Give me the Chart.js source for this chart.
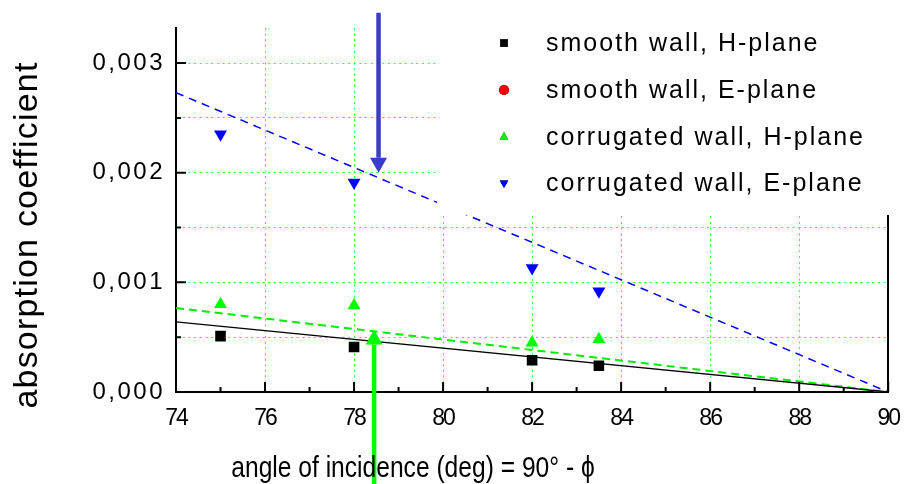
<!DOCTYPE html>
<html>
<head>
<meta charset="utf-8">
<script src="https://cdn.jsdelivr.net/npm/chart.js@4.4.0/dist/chart.umd.min.js"></script>
<style>
  body { margin: 0; background: #fff; }
  #wrap { width: 914px; height: 484px; }
</style>
</head>
<body>
<div id="wrap"><canvas id="absChart" width="914" height="484"></canvas></div>
<script>
// measured angles (deg) and absorption coefficients
const angles = [75, 78, 82, 83.5];
const smoothH = [0.00051, 0.00041, 0.00029, 0.00024];
const smoothE = [];
const corrH = [0.00080, 0.00079, 0.00045, 0.00048];
const corrE = [0.00235, 0.00191, 0.00113, 0.00092];

// fitted lines, all going to zero at 90 deg
const fitX = [74, 90];
const fitSmoothH = [0.00064, 0];
const fitCorrH = [0.000766, 0];
const fitCorrE = [0.00273, 0];

// arrows marking the critical angle
const arrowBlue = { x: 78.55, from: 0.00346, to: 0.0020 };
const arrowGreen = { x: 78.45, from: -0.00084, to: 0.00057 };

const xTicks = [74, 76, 78, 80, 82, 84, 86, 88, 90];

const arial = "'Liberation Sans', Arial, sans-serif";
const gridGreen = '#3dff3d';

const pts = (xs, ys) => ys.map((v, i) => ({ x: xs[i], y: v }));
const isStep = (v, s) => Math.abs(v / s - Math.round(v / s)) < 1e-6;

// -------------------------------------------------------------------
// text spacing: x labels tight, y labels / legend spaced
// -------------------------------------------------------------------
const spacingPlugin = {
  id: 'spacing',
  beforeDraw(chart) { chart.ctx.letterSpacing = '-2px'; },
  afterDatasetsDraw(chart) { chart.ctx.letterSpacing = '2.5px'; }
};

// -------------------------------------------------------------------
// ticks pointing into the plot, legend box, arrows, axis titles
// -------------------------------------------------------------------
const decoPlugin = {
  id: 'deco',
  afterDraw(chart) {
    const { ctx, chartArea: area, scales: { x, y } } = chart;
    ctx.save();

    // inward ticks
    ctx.strokeStyle = '#000';
    ctx.lineWidth = 2;
    ctx.beginPath();
    x.ticks.forEach(t => {
      const px = x.getPixelForValue(t.value);
      const len = isStep(t.value, 2) ? 10 : 5;
      ctx.moveTo(px, area.bottom);
      ctx.lineTo(px, area.bottom - len);
    });
    y.ticks.forEach(t => {
      const py = y.getPixelForValue(t.value);
      const len = isStep(t.value, 0.001) ? 10 : 5;
      ctx.moveTo(area.left, py);
      ctx.lineTo(area.left + len, py);
    });
    ctx.stroke();

    // legend box (opaque, hides grid underneath)
    ctx.fillStyle = '#fff';
    ctx.fillRect(437, 0, 914 - 437, 215);
    ctx.letterSpacing = '2px';
    ctx.font = '25px ' + arial;
    ctx.textBaseline = 'middle';
    ctx.textAlign = 'left';
    const rows = [43, 90, 137, 183];
    chart.data.datasets.filter(d => !d.isFit).forEach((d, i) => {
      Chart.helpers.drawPoint(ctx, {
        pointStyle: d.pointStyle, rotation: d.rotation || 0,
        radius: d.pointStyle === 'rect' ? 5.5 : 5, borderWidth: 0
      }, 504, rows[i]);
      ctx.fillStyle = d.backgroundColor;
      ctx.fill();
      ctx.fillStyle = '#000';
      ctx.fillText(d.label, 546, rows[i] + 1);
    });

    // arrows
    const arrow = (a, color) => {
      const ax = x.getPixelForValue(a.x);
      const y0 = y.getPixelForValue(a.from);
      const y1 = y.getPixelForValue(a.to);
      const dir = y1 > y0 ? 1 : -1;
      const head = 15;
      ctx.strokeStyle = color;
      ctx.fillStyle = color;
      ctx.lineWidth = 4.5;
      ctx.beginPath();
      ctx.moveTo(ax, y0);
      ctx.lineTo(ax, y1 - dir * head);
      ctx.stroke();
      ctx.beginPath();
      ctx.moveTo(ax, y1);
      ctx.lineTo(ax - 8.5, y1 - dir * head);
      ctx.lineTo(ax + 8.5, y1 - dir * head);
      ctx.closePath();
      ctx.fill();
    };
    arrow(arrowBlue, '#3c3ccc');
    arrow(arrowGreen, '#00ff00');

    // axis titles
    ctx.fillStyle = '#000';
    ctx.letterSpacing = '1.2px';
    ctx.font = '34px ' + arial;
    ctx.textAlign = 'center';
    ctx.textBaseline = 'alphabetic';
    ctx.save();
    ctx.translate(37, 235);
    ctx.rotate(-Math.PI / 2);
    ctx.fillText('absorption coefficient', 0, 0);
    ctx.restore();
    ctx.letterSpacing = '0px';
    ctx.font = '30px ' + arial;
    ctx.save();
    ctx.translate(413, 477);
    ctx.scale(0.82, 1);
    ctx.fillText('angle of incidence (deg) = 90° - \u03d5', 0, 0);
    ctx.restore();

    ctx.restore();
    ctx.letterSpacing = '0px';
  }
};

const ctx = document.getElementById('absChart').getContext('2d');
const absChart = new Chart(ctx, {
  type: 'scatter',
  data: {
    datasets: [
      {
        label: 'smooth wall, H-plane',
        data: pts(angles, smoothH),
        pointStyle: 'rect',
        backgroundColor: '#000',
        borderColor: '#000',
        pointRadius: 7.5,
        borderWidth: 0,
        order: 1
      },
      {
        label: 'smooth wall, E-plane',
        data: pts(angles, smoothE),
        pointStyle: 'circle',
        backgroundColor: '#ff0000',
        borderColor: '#ff0000',
        pointRadius: 6,
        borderWidth: 0,
        order: 1
      },
      {
        label: 'corrugated wall, H-plane',
        data: pts(angles, corrH),
        pointStyle: 'triangle',
        backgroundColor: '#00ff00',
        borderColor: '#00ff00',
        pointRadius: 7.5,
        borderWidth: 0,
        order: 1
      },
      {
        label: 'corrugated wall, E-plane',
        data: pts(angles, corrE),
        pointStyle: 'triangle',
        rotation: 180,
        backgroundColor: '#0000ff',
        borderColor: '#0000ff',
        pointRadius: 7.5,
        borderWidth: 0,
        order: 1
      },
      {
        label: 'fit smooth H',
        isFit: true,
        type: 'line',
        data: pts(fitX, fitSmoothH),
        borderColor: '#000',
        borderWidth: 1.3,
        pointRadius: 0,
        order: 2
      },
      {
        label: 'fit corrugated H',
        isFit: true,
        type: 'line',
        data: pts(fitX, fitCorrH),
        borderColor: '#00ee00',
        borderWidth: 2,
        borderDash: [8, 5],
        pointRadius: 0,
        order: 2
      },
      {
        label: 'fit corrugated E',
        isFit: true,
        type: 'line',
        data: pts(fitX, fitCorrE),
        borderColor: '#0000ff',
        borderWidth: 1.5,
        borderDash: [8, 6],
        pointRadius: 0,
        order: 2
      }
    ]
  },
  options: {
    responsive: false,
    animation: false,
    layout: { padding: { top: 28, right: 17, left: 0, bottom: 0 } },
    scales: {
      x: {
        type: 'linear',
        min: 74,
        max: 90,
        afterFit: s => { s.height = 92; },
        border: { color: '#000', width: 2, dash: [2, 3.7] },
        grid: {
          drawTicks: false,
          lineWidth: 1,
          color: c => (isStep(c.tick.value, 2) && c.tick.value > 74 && c.tick.value < 90) ? gridGreen : 'rgba(0,0,0,0)'
        },
        ticks: {
          stepSize: 1,
          autoSkip: false,
          maxRotation: 0,
          padding: 13,
          color: '#000',
          font: { family: arial, size: 23 },
          callback: v => xTicks.includes(v) ? String(v) : ''
        }
      },
      y: {
        type: 'linear',
        min: 0,
        max: 0.00332,
        afterFit: s => { s.width = 176; },
        border: { color: '#000', width: 2, dash: [2, 3.7] },
        grid: {
          drawTicks: false,
          lineWidth: 1,
          color: c => (c.tick.value > 0 && isStep(c.tick.value, 0.0005)) ? gridGreen : 'rgba(0,0,0,0)'
        },
        ticks: {
          z: 1,
          stepSize: 0.0005,
          includeBounds: false,
          padding: 11,
          color: '#000',
          font: { family: arial, size: 24 },
          callback: v => isStep(v, 0.001) ? v.toFixed(3).replace('.', ',') : ''
        }
      },
      y2: {
        type: 'linear',
        position: 'right',
        afterFit: s => { s.width = 0; },
        border: { color: '#000', width: 2 },
        grid: { display: false, drawTicks: false },
        ticks: { display: false }
      }
    },
    plugins: {
      legend: { display: false },
      tooltip: { enabled: false }
    }
  },
  plugins: [spacingPlugin, decoPlugin]
});
</script>
</body>
</html>
